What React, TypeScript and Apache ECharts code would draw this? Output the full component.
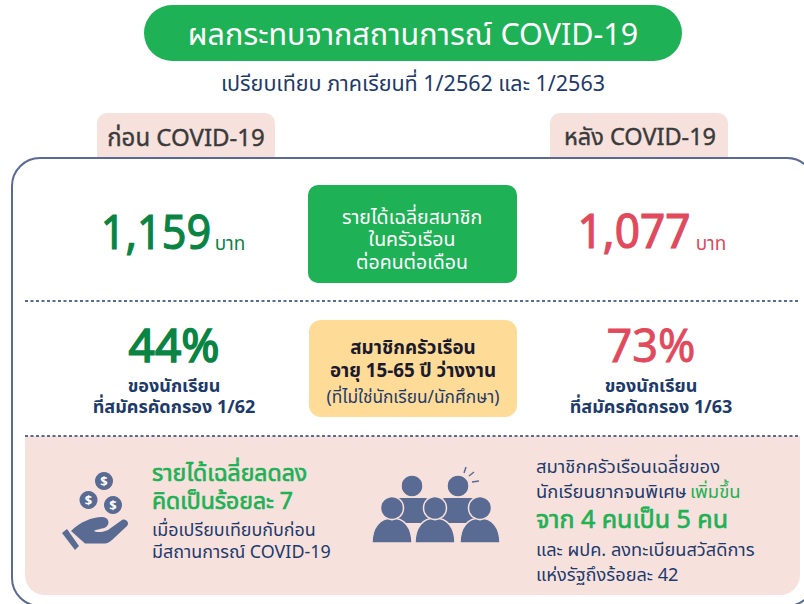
import React, { useEffect, useRef } from "react";
import * as echarts from "echarts";

const titleText = "ผลกระทบจากสถานการณ์ COVID-19";
const subtitleText = "เปรียบเทียบ ภาคเรียนที่ 1/2562 และ 1/2563";
const beforeLabel = "ก่อน COVID-19";
const afterLabel = "หลัง COVID-19";
const incomeValues = ["1,159", "1,077"];
const unitText = "บาท";
const incomeLines = ["รายได้เฉลี่ยสมาชิก", "ในครัวเรือน", "ต่อคนต่อเดือน"];
const jobless = ["44%", "73%"];
const joblessBelow = ["ที่สมัครคัดกรอง 1/62", "ที่สมัครคัดกรอง 1/63"];
const FONT = "'Noto Sans', 'Noto Sans Thai', sans-serif";

const GREEN = "#1fb156";
const DGREEN = "#0a8443";
const RED = "#e04a5c";
const NAVY = "#1d3a6b";
const SLATE = "#5a6b93";
const PINK = "#f7e1dd";

echarts.graphic.registerShape("dome", echarts.graphic.extendPath("M0 25 C0 9 8 0 20 0 C32 0 40 9 40 25 Z", {}));
echarts.graphic.registerShape("backBody", echarts.graphic.extendPath("M0 25 L4 6 C5 2 8 0 12 0 L36 0 C40 0 43 2 44 6 L48 25 Z", {}));
echarts.graphic.registerShape("hand", echarts.graphic.extendPath("M71 531 C80 522 92 517 102 517 C108 517 111 523 106 527 C103 529 97 529 94 531 C97 533 104 532 108 530 L122 520 C126 518 130 523 127 526 L112 540 C109 543 106 543.5 103 543.5 L85 543.5 Z", {}));

const t = (text: string, x: number, y: number, fontSize: number, fill: string, align = "center", fontWeight: any = "normal", thick = 0, scaleX = 1, lineHeight?: number) => ({
  type: "text", x, y, scaleX,
  style: { text, x: 0, y: 0, fontSize, fill, fontFamily: FONT, fontWeight, align, verticalAlign: "middle", stroke: thick ? fill : undefined, lineWidth: thick, lineHeight },
});
const rr = (x: number, y: number, width: number, height: number, r: any, fill: string) => ({
  type: "rect", shape: { x, y, width, height, r }, style: { fill },
});
const coin = (cx: number, cy: number) => [
  { type: "circle", shape: { cx, cy, r: 9 }, style: { fill: SLATE } },
  t("$", cx, cy, 13, "#ffffff", "center", "bold"),
];
const backPerson = (cx: number) => [
  { type: "backBody", x: cx - 24, y: 498, style: { fill: SLATE } },
  { type: "circle", shape: { cx, cy: 486, r: 11 }, style: { fill: SLATE, stroke: PINK, lineWidth: 1.5 } },
];
const frontPerson = (cx: number) => [
  { type: "dome", x: cx - 20, y: 518, style: { fill: SLATE, stroke: PINK, lineWidth: 1.5 } },
  { type: "circle", shape: { cx, cy: 508, r: 11.5 }, style: { fill: SLATE, stroke: PINK, lineWidth: 1.5 } },
];
const dots = (y: number) => ({ type: "line", shape: { x1: 25, y1: y, x2: 800, y2: y }, style: { stroke: SLATE, lineWidth: 2, lineDash: [3, 2.5] } });
const tick = (x1: number, y1: number, x2: number, y2: number) => ({ type: "line", shape: { x1, y1, x2, y2 }, style: { stroke: SLATE, lineWidth: 1.5 } });

export default function App() {
  const ref = useRef<HTMLDivElement>(null);
  useEffect(() => {
    const chart = echarts.init(ref.current!, undefined, { renderer: "svg" });
    const elements: any[] = [
      rr(144, 5, 538, 56, 28, GREEN),
      t(titleText, 413, 33, 30.5, "#fff"),
      t(subtitleText, 413, 82, 21.5, NAVY),
      rr(97, 113, 178, 50, [10, 10, 0, 0], PINK),
      rr(550, 113, 178, 50, [10, 10, 0, 0], PINK),
      t(beforeLabel, 186, 136, 24, "#3a3a3a", "center", "normal", 0.4),
      t(afterLabel, 640, 136, 23.5, "#3a3a3a", "center", "normal", 0.4),
      { type: "rect", shape: { x: 12, y: 158, width: 803, height: 448, r: 28 }, style: { fill: "#fff", stroke: SLATE, lineWidth: 2 } },
      rr(308, 185, 209, 98, 10, GREEN),
      t(incomeLines.join("\n"), 412, 238.5, 19.5, "#fff", "center", "normal", 0, 1, 22.5),
      t(incomeValues[0], 156, 230, 48, DGREEN, "center", "normal", 1.2, 0.9),
      t(unitText, 230, 243, 19, DGREEN),
      t(incomeValues[1], 634, 230, 48, RED, "center", "normal", 1.2, 0.92),
      t(unitText, 711, 243, 19, RED),
      dots(301),
      t(jobless[0], 174, 344, 46, DGREEN, "center", "normal", 1.6),
      t(jobless[1], 651, 344, 45, RED, "center", "normal", 0.8),
      t("ของนักเรียน\n" + joblessBelow[0], 174, 395.5, 18, NAVY, "center", "bold", 0, 1, 21.5),
      t("ของนักเรียน\n" + joblessBelow[1], 651, 395.5, 18, NAVY, "center", "bold", 0, 1, 21.5),
      rr(309, 320, 208, 97, 12, "#fedc97"),
      t("สมาชิกครัวเรือน\nอายุ 15-65 ปี ว่างงาน", 413, 358.5, 18.8, "#1a1a2e", "center", "bold", 0, 1, 23),
      t("(ที่ไม่ใช่นักเรียน/นักศึกษา)", 413, 396, 17.3, NAVY),
      rr(25, 436, 775, 159, [0, 0, 20, 20], PINK),
      dots(436),
      ...coin(104, 481), ...coin(88.5, 500), ...coin(113, 505),
      { type: "hand", style: { fill: SLATE } },
      { type: "polygon", shape: { points: [[62, 533], [67, 529], [79, 546], [75, 550]] }, style: { fill: SLATE } },
      t("รายได้เฉลี่ยลดลง\nคิดเป็นร้อยละ 7", 152, 486, 23, GREEN, "left", "normal", 0.7, 1, 28),
      t("เมื่อเปรียบเทียบกับก่อน\nมีสถานการณ์ COVID-19", 152, 540, 17.9, NAVY, "left", "normal", 0, 1, 22),
      ...backPerson(412), ...backPerson(458),
      ...frontPerson(392), ...frontPerson(435), ...frontPerson(480),
      tick(464, 473, 466, 467), tick(469, 476, 474, 472), tick(472, 482, 479, 481),
      t("สมาชิกครัวเรือนเฉลี่ยของ\nนักเรียนยากจนพิเศษ", 536, 477.5, 18.4, NAVY, "left", "normal", 0, 1, 25),
      t("เพิ่มขึ้น", 690, 490, 18.4, GREEN, "left"),
      t("จาก 4 คนเป็น 5 คน", 536, 518, 25, GREEN, "left", "normal", 0.7),
      t("และ ผปค. ลงทะเบียนสวัสดิการ\nแห่งรัฐถึงร้อยละ 42", 536, 561.5, 18.2, NAVY, "left", "normal", 0, 1, 25),
    ];
    chart.setOption({ animation: false, backgroundColor: "#fff", graphic: { elements } });
    return () => chart.dispose();
  }, []);
  return <div ref={ref} style={{ position: "fixed", left: 0, top: 0, width: 804, height: 604 }} />;
}
